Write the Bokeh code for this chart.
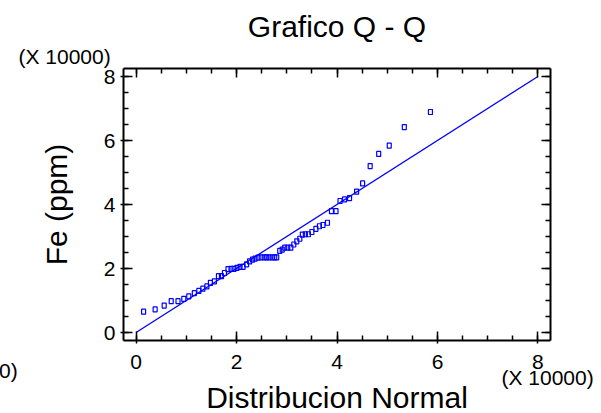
from bokeh.plotting import figure
from bokeh.models import LinearAxis, SingleIntervalTicker, Range1d, ColumnDataSource, Title
from bokeh.embed import file_html
from bokeh.resources import INLINE

# ---- data (units of 10000) ----
normal_quantiles = [0.15, 0.38, 0.56, 0.70, 0.835, 0.95, 1.05, 1.16, 1.25, 1.33,
                    1.41, 1.48, 1.56, 1.64, 1.70, 1.76, 1.83, 1.89, 1.95, 2.01,
                    2.07, 2.13, 2.20, 2.26, 2.32, 2.37, 2.43, 2.49, 2.55, 2.60,
                    2.65, 2.71, 2.76, 2.80, 2.86, 2.91, 2.96, 3.02, 3.08, 3.14,
                    3.20, 3.26, 3.31, 3.37, 3.43, 3.50, 3.58, 3.65, 3.72, 3.81,
                    3.89, 3.98, 4.06, 4.15, 4.25, 4.39, 4.51, 4.66, 4.83, 5.04,
                    5.34, 5.86]
fe_ppm = [0.65, 0.72, 0.84, 0.98, 0.98, 1.05, 1.13, 1.23, 1.30, 1.37,
          1.44, 1.55, 1.60, 1.76, 1.76, 1.86, 1.98, 1.99, 1.99, 2.02,
          2.05, 2.05, 2.13, 2.22, 2.28, 2.31, 2.34, 2.35, 2.35, 2.35,
          2.35, 2.35, 2.35, 2.35, 2.55, 2.59, 2.65, 2.65, 2.65, 2.75,
          2.85, 2.93, 3.06, 3.07, 3.07, 3.14, 3.24, 3.32, 3.36, 3.43,
          3.79, 3.79, 4.11, 4.16, 4.20, 4.40, 4.66, 5.20, 5.58, 5.84,
          6.42, 6.89]
ref_line_x = [0, 8]
ref_line_y = [0, 8]
axis_min, axis_max = -0.25, 8.25
tick_step = 2
multiplier_text = "(X 10000)"
title_text = "Grafico Q - Q"
x_label = "Distribucion Normal"
y_label = "Fe (ppm)"

# ---- layout ----
W, H = 601, 413
FL, FR, FT, FB = 123, 51, 68, 73
FONT = "Liberation Sans"
BLUE = "#0000FF"

p = figure(width=W, height=H, title=None,
           x_range=Range1d(axis_min, axis_max), y_range=Range1d(axis_min, axis_max),
           x_axis_type=None, y_axis_type=None,
           output_backend="svg", toolbar_location=None,
           min_border_left=FL, min_border_right=FR,
           min_border_top=FT, min_border_bottom=FB,
           background_fill_color="white", border_fill_color="white",
           outline_line_color=None)


def make_axis(show_labels):
    ax = LinearAxis(ticker=SingleIntervalTicker(interval=tick_step, num_minor_ticks=4))
    ax.axis_line_width = 2
    ax.axis_line_color = "black"
    ax.major_tick_line_width = 1.5
    ax.minor_tick_line_width = 1.5
    ax.major_tick_line_color = "black"
    ax.minor_tick_line_color = "black"
    ax.major_tick_in = 9
    ax.major_tick_out = 3
    ax.minor_tick_in = 5
    ax.minor_tick_out = 0
    ax.major_label_text_font = FONT
    ax.major_label_text_font_size = "21px"
    ax.major_label_text_color = "black"
    ax.axis_label_text_font = FONT
    ax.axis_label_text_font_size = "30px"
    ax.axis_label_text_font_style = "normal"
    ax.axis_label_text_color = "black"
    if not show_labels:
        ax.major_label_overrides = {0: "", 2: "", 4: "", 6: "", 8: ""}
        ax.major_tick_out = 0
        ax.major_label_standoff = 0
    return ax


xb = make_axis(True)
xb.major_label_standoff = 11
yl = make_axis(True)
yl.axis_label = y_label
yl.major_label_standoff = 5
yl.axis_label_standoff = 28
xt = make_axis(False)
yr = make_axis(False)
p.add_layout(xb, "below")
p.add_layout(yl, "left")
p.add_layout(xt, "above")
p.add_layout(yr, "right")

txt = dict(text_font=FONT, text_font_style="normal", text_color="black")
# above: multiplier of the y axis (inner row), then the main title (outer row)
p.add_layout(Title(text=multiplier_text, align="left", offset=-105, standoff=1,
                   text_font_size="21px", **txt), "above")
p.add_layout(Title(text=title_text, align="center", standoff=0,
                   text_font_size="30px", **txt), "above")
# below: x-axis title and multipliers (zero-height rows, placed by standoff)
p.add_layout(Title(text=x_label, align="center", standoff=-84,
                   vertical_align="bottom", text_font_size="30px", **txt), "below")
p.add_layout(Title(text=multiplier_text, align="left", offset=378, standoff=-34,
                   vertical_align="bottom", text_font_size="21px", **txt), "below")
p.add_layout(Title(text=multiplier_text, align="left", offset=-198, standoff=-26,
                   vertical_align="top", text_font_size="21px", **txt), "below")

src = ColumnDataSource(dict(x=normal_quantiles, y=fe_ppm))
p.line(ref_line_x, ref_line_y, line_color=BLUE, line_width=1.3)
p.rect("x", "y", width=4, height=5, width_units="screen", height_units="screen",
       source=src, fill_color=None, line_color=BLUE, line_width=1.2)

open("out.html", "w").write(file_html(p, INLINE))
